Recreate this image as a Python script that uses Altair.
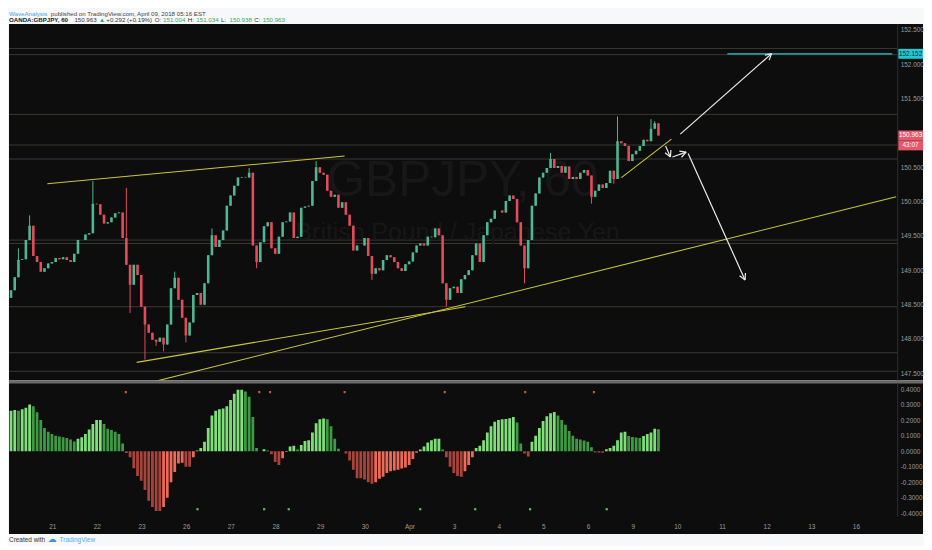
import math
import altair as alt
import pandas as pd

# ---------------- data ----------------
day_labels = ["21", "22", "23", "26", "27", "28", "29", "30", "Apr", "3",
              "4", "5", "6", "9", "10", "11", "12", "13", "16"]
first_bar_day = -0.923      # trading-day position of first 2h bar
bar_step = 1 / 12           # 2-hour bars

closes = [
    148.71, 148.90, 149.15, 149.16, 149.44, 149.65, 149.21, 149.12, 148.98, 149.03,
    149.10, 149.12, 149.18, 149.16, 149.19, 149.15, 149.12, 149.24, 149.44, 149.44,
    149.52, 149.54, 149.97, 149.96, 149.81, 149.68, 149.70, 149.77, 149.83, 149.84,
    149.47, 149.08, 148.79, 149.08, 148.93, 148.47, 148.21, 148.09, 147.99, 147.96,
    148.02, 147.92, 148.21, 148.74, 148.89, 148.57, 148.31, 148.05, 148.24, 148.64,
    148.67, 148.50, 148.81, 149.22, 149.51, 149.34, 149.44, 149.58, 149.94, 150.09,
    150.23, 150.35, 150.36, 150.35, 150.42, 149.36, 149.12, 149.41, 149.64, 149.70,
    149.32, 149.24, 149.49, 149.70, 149.71, 149.84, 149.47, 149.49, 149.91, 149.93,
    149.94, 150.30, 150.50, 150.42, 150.39, 150.16, 150.07, 150.10, 149.91, 149.99,
    149.81, 149.65, 149.29, 149.36, 149.36, 149.47, 149.21, 148.95, 149.03, 149.00,
    149.15, 149.22, 149.19, 149.12, 149.03, 148.99, 149.09, 149.13, 149.26, 149.36,
    149.39, 149.36, 149.49, 149.48, 149.61, 149.51, 148.81, 148.57, 148.74, 148.76,
    148.67, 148.87, 148.93, 149.00, 149.22, 149.39, 149.12, 149.51, 149.70, 149.75,
    149.87, 149.87, 149.84, 150.01, 150.09, 150.04, 149.70, 149.36, 149.03, 149.44,
    149.94, 150.12, 150.35, 150.42, 150.49, 150.62, 150.49, 150.52, 150.42, 150.51,
    150.33, 150.36, 150.33, 150.42, 150.46, 150.38, 150.07, 150.16, 150.25, 150.20,
    150.27, 150.45, 150.33, 150.88, 150.85, 150.81, 150.59, 150.69, 150.74, 150.81,
    150.90, 150.88, 151.06, 151.14, 150.963,
]
first_open = 148.60
highs = {2: 149.32, 5: 149.80, 22: 150.30, 31: 150.20, 44: 148.98, 54: 149.61,
         64: 150.49, 82: 150.59, 145: 150.71, 163: 151.24, 172: 151.20, 173: 151.17}
lows = {32: 148.38, 36: 147.70, 39: 147.90, 41: 147.82, 47: 147.95, 66: 149.03,
        97: 148.86, 117: 148.47, 138: 148.81, 156: 149.97, 162: 150.26}

momentum = [
    0.26, 0.265, 0.26, 0.27, 0.28, 0.30, 0.29, 0.25, 0.20, 0.15,
    0.125, 0.11, 0.10, 0.095, 0.09, 0.085, 0.075, 0.062, 0.08, 0.09,
    0.11, 0.14, 0.175, 0.20, 0.20, 0.175, 0.145, 0.137, 0.125, 0.11,
    0.05, -0.012, -0.04, -0.11, -0.16, -0.19, -0.25, -0.32, -0.36, -0.385,
    -0.385, -0.36, -0.30, -0.20, -0.135, -0.08, -0.075, -0.10, -0.10, -0.04,
    0.005, 0.02, 0.06, 0.15, 0.23, 0.26, 0.27, 0.275, 0.29, 0.33,
    0.37, 0.395, 0.395, 0.385, 0.35, 0.22, 0.02, 0.0, 0.012, 0.005,
    -0.02, -0.07, -0.09, -0.045, -0.005, 0.03, 0.035, 0.01, 0.04, 0.065,
    0.07, 0.12, 0.18, 0.205, 0.21, 0.205, 0.16, 0.08, 0.015, 0.0,
    -0.015, -0.06, -0.12, -0.175, -0.175, -0.182, -0.20, -0.21, -0.20, -0.178,
    -0.165, -0.14, -0.13, -0.125, -0.12, -0.112, -0.105, -0.09, -0.05, -0.01,
    0.01, 0.03, 0.055, 0.07, 0.08, 0.08, 0.01, -0.04, -0.10, -0.14,
    -0.16, -0.165, -0.13, -0.09, -0.04, 0.02, 0.035, 0.07, 0.12, 0.16,
    0.19, 0.20, 0.205, 0.208, 0.212, 0.22, 0.185, 0.05, -0.015, -0.035,
    0.06, 0.10, 0.15, 0.195, 0.225, 0.245, 0.252, 0.23, 0.20, 0.17,
    0.13, 0.10, 0.08, 0.075, 0.068, 0.06, 0.025, -0.008, -0.008, -0.01,
    0.012, 0.02, 0.035, 0.07, 0.12, 0.125, 0.097, 0.092, 0.088, 0.085,
    0.097, 0.11, 0.12, 0.145, 0.141,
]

level_prices = [152.23, 152.14, 151.27, 150.824, 150.62, 149.44, 149.39, 148.47, 147.80, 147.53]
target_price = 152.152
target_start = 15.121
last_price = 150.963
countdown = "43:07"
trend_lines = [  # (day, price) -> (day, price)
    (-0.110, 150.26, 6.549, 150.665),
    (1.890, 147.66, 9.253, 148.47),
    (2.220, 147.37, 18.90, 150.07),
    (12.747, 150.35, 13.868, 150.91),
]
arrows = [
    (14.066, 150.983, 16.110, 152.154),
    (13.736, 150.81, 13.846, 150.65),
    (13.890, 150.65, 14.198, 150.72),
    (14.242, 150.70, 15.516, 148.86),
]
red_dots = [1.648, 4.637, 4.879, 6.549, 8.791, 10.593, 12.132]
green_dots = [3.253, 4.747, 5.297, 8.242, 9.473, 10.703, 12.418]

price_ticks = [147.5, 148.0, 148.5, 149.0, 149.5, 150.0, 150.5, 151.5, 152.0, 152.5]
mom_ticks = [-0.4, -0.3, -0.2, -0.1, 0.0, 0.1, 0.2, 0.3, 0.4]

header1 = [("WaveAnalysis", "#4a9fdc", "normal"),
           ("published on TradingView.com, April 09, 2018 05:16 EST", "#444444", "normal")]
header2 = [("OANDA:GBPJPY, 60", "#222222", "bold"), ("150.963", "#333333", "normal"),
           ("\u25b2", "#2fa85a", "normal"), ("+0.292 (+0.19%)", "#333333", "normal"),
           ("O:", "#333333", "normal"), ("151.004", "#2fa85a", "normal"),
           ("H:", "#333333", "normal"), ("151.034", "#2fa85a", "normal"),
           ("L:", "#333333", "normal"), ("150.938", "#2fa85a", "normal"),
           ("C:", "#333333", "normal"), ("150.963", "#2fa85a", "normal")]

# ---------------- layout / style ----------------
W, H_PRICE, H_IND = 895, 359, 134
AXIS_W, HEADER_H, DATE_H = 26, 14, 18
X_DOMAIN = [-0.857, 18.813]
Y_PRICE = [147.40, 152.587]
Y_IND = [-0.419, 0.438]
BG_DARK, BG_LIGHT = "#0d0d0d", "#f7f8fa"
UP, DOWN = "#4fb893", "#e24d5c"
YELLOW, LEVEL, CYAN, RED_BOX = "#c8c83c", "#3b3833", "#22c7d6", "#e8566a"
LABEL = "#9c9c9c"
FONT = "Liberation Sans"
HFONT = 6.2

PX_PER_DAY = W / (X_DOMAIN[1] - X_DOMAIN[0])
PX_PER_YEN = H_PRICE / (Y_PRICE[1] - Y_PRICE[0])

xs = alt.Scale(domain=X_DOMAIN, nice=False, zero=False)
ys = alt.Scale(domain=Y_PRICE, nice=False, zero=False)
ms = alt.Scale(domain=Y_IND, nice=False, zero=False)

price_axis = alt.Axis(orient="right", values=price_ticks, format=".3f", labelColor=LABEL,
                      labelFontSize=6.5, labelFont=FONT, ticks=False, grid=False, domain=True,
                      domainColor="#2e2e2e", labelPadding=3, title=None, zindex=1)
mom_axis = alt.Axis(orient="right", values=mom_ticks,
                    labelExpr="replace(format(datum.value, '.4f'), '\u2212', '-')",
                    labelColor=LABEL, labelFontSize=6.5, labelFont=FONT, ticks=False, grid=False,
                    domain=True, domainColor="#2e2e2e", labelPadding=3, title=None, zindex=1)
label_list = "[" + ",".join("'%s'" % d for d in day_labels) + "]"
date_axis = alt.Axis(orient="bottom", values=list(range(len(day_labels))),
                     labelExpr=label_list + "[datum.value]", labelColor=LABEL, labelFontSize=6.5,
                     labelFont=FONT, ticks=False, grid=False, domain=False, labelPadding=7,
                     labelFlush=False, labelOverlap=False, title=None, zindex=1)


def XP(f):
    return alt.X(f, type="quantitative", scale=xs, axis=None)


def XI(f):
    return alt.X(f, type="quantitative", scale=xs, axis=date_axis)


def YP(f):
    return alt.Y(f, type="quantitative", scale=ys, axis=price_axis)


def YM(f):
    return alt.Y(f, type="quantitative", scale=ms, axis=mom_axis)


one = pd.DataFrame({"a": [0]})


def box(x0, x1, y0, y1, color):
    return alt.Chart(one).mark_rect(color=color).encode(
        x=alt.value(x0), x2=alt.value(x1), y=alt.value(y0), y2=alt.value(y1))


CW = {".": .278, ",": .278, ":": .278, " ": .278, "+": .584, "(": .333, ")": .333,
      "%": .889, "\u25b2": .77}


def text_w(s, size, weight):
    w = sum(CW.get(ch, .556 if ch.isdigit() else (.70 if ch.isupper() else .5)) for ch in s)
    return w * size * (1.06 if weight == "bold" else 1.0)


def texts(items, y, size, gap):
    out, x = [], 0.0
    for txt, col, weight in items:
        out.append(alt.Chart(one).mark_text(text=txt, align="left", baseline="middle",
                                            fontSize=size, font=FONT, color=col,
                                            fontWeight=weight)
                   .encode(x=alt.value(round(x, 1)), y=alt.value(y)))
        x += text_w(txt, size, weight) + gap
    return out


# ---------------- derived tables ----------------
n = len(closes)
t = [first_bar_day + i * bar_step for i in range(n)]
opens = [first_open] + closes[:-1]
cdf = pd.DataFrame({
    "t": t, "o": opens, "c": closes,
    "h": [highs.get(i, max(o, c)) for i, (o, c) in enumerate(zip(opens, closes))],
    "l": [lows.get(i, min(o, c)) for i, (o, c) in enumerate(zip(opens, closes))],
    "dir": ["up" if c >= o else "down" for o, c in zip(opens, closes)],
})
dir_color = alt.Color("dir:N", scale=alt.Scale(domain=["up", "down"], range=[UP, DOWN]), legend=None)

cats = []
for i, v in enumerate(momentum):
    prev = momentum[i - 1] if i > 0 else v
    if v >= 0:
        cats.append("pu" if v >= prev else "pd")
    else:
        cats.append("nd" if v <= prev else "nu")
mdf = pd.DataFrame({"t": t[:len(momentum)], "v": momentum, "zero": 0.0, "cat": cats})

tdf = pd.DataFrame(trend_lines, columns=["x", "y", "x2", "y2"])

segs = []
for x1, y1, x2, y2 in arrows:
    segs.append((x1, y1, x2, y2))
    a = math.atan2((y2 - y1) * PX_PER_YEN, (x2 - x1) * PX_PER_DAY)
    for s in (1, -1):
        b = a + math.pi - s * math.radians(28)
        segs.append((x2, y2, x2 + 7 * math.cos(b) / PX_PER_DAY, y2 + 7 * math.sin(b) / PX_PER_YEN))
adf = pd.DataFrame(segs, columns=["x", "y", "x2", "y2"])

half = 5 / PX_PER_YEN
target_box = pd.DataFrame({"lo": [target_price - half], "hi": [target_price + half],
                           "mid": [target_price], "txt": ["%.3f" % target_price]})
last_box = pd.DataFrame({"lo": [last_price - half, last_price - 3 * half],
                         "hi": [last_price + half, last_price - half],
                         "mid": [last_price, last_price - 2 * half],
                         "txt": ["%.3f" % last_price, countdown]})


def label_box(df, fill, ink):
    r = alt.Chart(df).mark_rect(color=fill).encode(
        x=alt.value(W + 1), x2=alt.value(W + AXIS_W), y=YP("lo"), y2="hi")
    tx = alt.Chart(df).mark_text(fontSize=6.5, font=FONT, align="center", baseline="middle",
                                 color=ink).encode(x=alt.value(W + 13.5), y=YP("mid"), text="txt:N")
    return [r, tx]


# ---------------- price panel ----------------
layers = [
    box(0, W + AXIS_W, -HEADER_H, 0, BG_LIGHT),
    box(0, W + AXIS_W, 0, H_PRICE, BG_DARK),
    box(0, W + AXIS_W, H_PRICE, H_PRICE + 3, "#6a6a6a"),
    alt.Chart(pd.DataFrame({"p": level_prices})).mark_rule(color=LEVEL, strokeWidth=1).encode(
        y=YP("p"), x=alt.value(0), x2=alt.value(W)),
    alt.Chart(one).mark_text(text="GBPJPY, 60", fontSize=50, font=FONT, color="#171717",
                             align="center", baseline="middle").encode(x=alt.value(457), y=alt.value(158)),
    alt.Chart(one).mark_text(text="British Pound / Japanese Yen", fontSize=25, font=FONT,
                             color="#171717", align="center", baseline="middle").encode(
        x=alt.value(452), y=alt.value(210)),
    alt.Chart(pd.DataFrame({"x": [target_start], "x2": [X_DOMAIN[1]], "p": [target_price]}))
    .mark_rule(color=CYAN, strokeWidth=1.3).encode(x=XP("x"), x2="x2", y=YP("p")),
    alt.Chart(cdf).mark_rule(strokeWidth=1, clip=True).encode(x=XP("t"), y=YP("l"), y2="h", color=dir_color),
    alt.Chart(cdf).mark_bar(size=2.6, clip=True).encode(x=XP("t"), y=YP("o"), y2="c", color=dir_color),
    alt.Chart(tdf).mark_rule(color=YELLOW, strokeWidth=1.1, clip=True).encode(
        x=XP("x"), x2="x2", y=YP("y"), y2="y2"),
    alt.Chart(adf).mark_rule(color="#ececec", strokeWidth=1.2, clip=True).encode(
        x=XP("x"), x2="x2", y=YP("y"), y2="y2"),
]
layers += label_box(target_box, CYAN, "#0b2a33")
layers += label_box(last_box, RED_BOX, "#ffffff")
layers += texts(header1, -10, HFONT, 2.5)
layers += texts(header2, -3.5, HFONT, 2.5)

price = alt.layer(*layers).properties(width=W, height=H_PRICE)

# ---------------- momentum panel ----------------
mcolor = alt.Color("cat:N", scale=alt.Scale(domain=["pu", "pd", "nd", "nu"],
                                            range=["#7fe07a", "#3f9a44", "#a8443a", "#ee6a58"]),
                   legend=None)
ilayers = [
    box(0, W + AXIS_W, 0, H_IND + DATE_H, BG_DARK),
    alt.Chart(mdf).mark_bar(size=2.8, clip=True).encode(x=XI("t"), y=YM("v"), y2="zero", color=mcolor),
    alt.Chart(pd.DataFrame({"t": red_dots})).mark_square(size=5, color="#c9504a", opacity=1).encode(
        x=XI("t"), y=alt.value(9)),
    alt.Chart(pd.DataFrame({"t": green_dots})).mark_square(size=5, color="#5fbf5a", opacity=1).encode(
        x=XI("t"), y=alt.value(127)),
    alt.Chart(one).mark_text(text="Created with", fontSize=6.5, font=FONT, color="#333333",
                             align="left", baseline="middle").encode(x=alt.value(0), y=alt.value(158)),
    alt.Chart(one).mark_text(text="\u2601", fontSize=9, font="DejaVu Sans", color="#3d93d8",
                             align="left", baseline="middle").encode(x=alt.value(39), y=alt.value(157)),
    alt.Chart(one).mark_text(text="TradingView", fontSize=6.5, font=FONT, color="#5aa9e6",
                             align="left", baseline="middle").encode(x=alt.value(51), y=alt.value(158)),
]
ind = alt.layer(*ilayers).properties(width=W, height=H_IND)

chart = (alt.vconcat(price, ind, spacing=3, bounds="flush")
         .resolve_scale(color="independent")
         .properties(padding=0, background=BG_LIGHT)
         .configure_view(strokeWidth=0))

chart.save("out.html", embed_options={"renderer": "svg", "actions": False})
